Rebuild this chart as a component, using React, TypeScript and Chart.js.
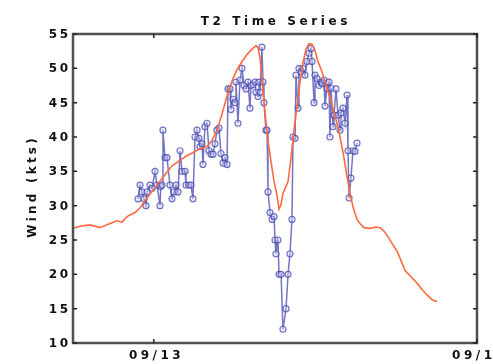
import { useEffect, useRef } from "react";
import { Chart, registerables } from "chart.js";

Chart.register(...registerables);

// Time axis: hours relative to 09/13 00:00
const xMin = -6;
const xMax = 24;
const yMin = 10;
const yMax = 55;

const yTickValues = [10, 15, 20, 25, 30, 35, 40, 45, 50, 55];
const xTickHours = [0, 24];
const xTickLabels = ["09/13", "09/14"];
const titleText = "T2 Time Series";
const yAxisTitle = "Wind (kts)";

// Model (orange line)
const modelHours = [
  -6.0, -5.48, -4.74, -4.0, -3.25, -2.73, -2.36, -1.99, -1.4, -1.02, -0.43, 0.24, 0.83, 1.35,
  1.95, 2.47, 2.91, 3.43, 3.95, 4.32, 4.69, 5.06, 5.51, 5.88, 6.18, 6.55, 6.92, 7.29, 7.59,
  7.74, 7.89, 8.03, 8.26, 8.48, 8.7, 8.93, 9.15, 9.3, 9.45, 9.59, 9.82, 9.97, 10.19, 10.41,
  10.63, 10.86, 11.08, 11.3, 11.53, 11.75, 11.97, 12.19, 12.49, 12.79, 13.08, 13.38, 13.6,
  13.83, 14.12, 14.35, 14.57, 14.79, 15.09, 15.31, 15.61, 16.05, 16.5, 16.8, 17.09, 17.39,
  17.69, 18.06, 18.36, 18.65, 19.03, 19.55, 19.92, 20.29, 20.66, 21.03,
];
const modelWind = [
  26.7, 27.0, 27.2, 26.8, 27.4, 27.8, 27.6, 28.4, 29.0, 29.7, 31.3, 33.0, 34.5, 35.8,
  36.6, 37.3, 37.7, 38.3, 38.6, 39.5, 41.0, 43.3, 46.5, 48.5, 49.8, 51.0, 52.0, 52.8, 53.3,
  53.0, 51.5, 48.5, 43.5, 39.5, 36.5, 33.5, 31.5, 29.5, 30.2, 31.8, 32.8, 33.5, 37.0, 41.0,
  44.5, 48.0, 50.8, 52.8, 53.6, 53.5, 52.6, 51.0, 49.5, 47.5, 45.8, 43.6, 42.0,
  40.0, 37.0, 34.2, 31.8, 29.8, 28.0, 27.4, 26.8, 26.7, 26.9, 26.8, 26.3, 25.5,
  24.5, 23.4, 22.0, 20.6, 19.8, 18.7, 17.8, 17.0, 16.3, 16.0,
];

// Observations (blue line with circles)
const obsHours = [
  -1.17, -1.02, -0.88, -0.73, -0.58, -0.5, -0.28, -0.13, 0.09, 0.24, 0.46, 0.52, 0.61, 0.68,
  0.83, 0.98, 1.2, 1.35, 1.5, 1.65, 1.8, 1.95, 2.09, 2.32, 2.39, 2.61, 2.76, 2.91, 3.06,
  3.21, 3.36, 3.43, 3.58, 3.65, 3.8, 3.95, 4.1, 4.25, 4.4, 4.54, 4.69, 4.84, 4.99, 5.14,
  5.29, 5.44, 5.51, 5.66, 5.73, 5.88, 6.03, 6.1, 6.25, 6.4, 6.55, 6.7, 6.85, 7.0, 7.14,
  7.22, 7.37, 7.52, 7.59, 7.74, 7.81, 7.89, 8.03, 8.11, 8.18, 8.33, 8.41, 8.48, 8.63, 8.78,
  8.93, 9.0, 9.07, 9.22, 9.3, 9.45, 9.59, 9.82, 9.97, 10.11, 10.26, 10.34, 10.49, 10.56,
  10.71, 10.78, 10.93, 11.08, 11.23, 11.38, 11.53, 11.67, 11.75, 11.9, 11.97, 12.12, 12.27,
  12.42, 12.49, 12.64, 12.71, 12.86, 13.01, 13.08, 13.16, 13.31, 13.38, 13.53, 13.68, 13.83,
  13.9, 14.05, 14.2, 14.35, 14.42, 14.5, 14.64, 14.79, 14.94, 15.09,
];
const obsWind = [
  31.0, 33.0, 32.0, 31.0, 30.0, 32.0, 33.0, 32.5, 35.0, 33.0, 30.0, 32.8, 33.0, 41.0,
  37.0, 37.0, 33.0, 31.0, 32.0, 33.0, 32.0, 38.0, 35.0, 35.0, 33.0, 33.0, 33.0, 31.0, 40.0,
  41.0, 39.8, 38.6, 39.0, 36.0, 41.5, 42.0, 38.0, 37.5, 37.5, 39.0, 41.0, 41.3, 37.6, 36.2,
  37.0, 36.0, 47.0, 47.0, 44.0, 45.5, 45.0, 48.0, 42.0, 48.3, 50.0, 47.5, 47.0, 48.0, 44.2,
  47.5, 47.6, 48.0, 46.5, 45.9, 48.0, 46.5, 53.1, 48.0, 45.0, 41.0, 41.0, 32.0, 29.0, 28.0,
  28.4, 25.0, 23.0, 25.0, 20.0, 20.0, 12.0, 15.0, 20.0, 23.0, 28.0, 40.0, 39.8, 49.0,
  44.2, 50.0, 49.5, 50.0, 49.0, 51.0, 52.2, 52.9, 51.0, 45.0, 49.0, 48.5, 47.5,
  48.0, 47.8, 48.3, 44.5, 47.1, 48.0, 40.0, 47.1, 41.5, 43.2, 47.0, 43.2, 41.0,
  43.5, 44.2, 42.0, 46.1, 38.0, 31.1, 34.0, 38.0, 37.9, 39.1,
];

const FONT_FAMILY = '"DejaVu Sans", "Liberation Sans", Arial, sans-serif';

function drawSpaced(
  ctx: CanvasRenderingContext2D,
  text: string,
  x: number,
  y: number,
  align: "left" | "center" | "right",
  spacing: number
) {
  (ctx as any).letterSpacing = "0px";
  ctx.textAlign = "left";
  const chars = Array.from(text);
  const widths = chars.map((c) => ctx.measureText(c).width);
  const total = widths.reduce((a, b) => a + b, 0) + spacing * (chars.length - 1);
  let sx = x;
  if (align === "center") sx = x - total / 2;
  else if (align === "right") sx = x - total;
  chars.forEach((c, i) => {
    ctx.fillText(c, sx, y);
    sx += widths[i] + spacing;
  });
}

const axesPlugin = {
  id: "matlabAxes",
  afterDraw(chart: any) {
    const { ctx, chartArea } = chart;
    const xs = chart.scales.x;
    const ys = chart.scales.y;
    const { left, right, top, bottom } = chartArea;
    ctx.save();
    // box
    ctx.strokeStyle = "#505050";
    ctx.lineWidth = 2.5;
    ctx.strokeRect(left, top, right - left, bottom - top);

    // ticks
    ctx.lineWidth = 1.5;
    ctx.strokeStyle = "#222";
    const tl = 4;
    yTickValues.forEach((v) => {
      const py = ys.getPixelForValue(v);
      ctx.beginPath();
      ctx.moveTo(left, py);
      ctx.lineTo(left + tl, py);
      ctx.moveTo(right, py);
      ctx.lineTo(right - tl, py);
      ctx.stroke();
    });
    xTickHours.forEach((h) => {
      const px = xs.getPixelForValue(h);
      ctx.beginPath();
      ctx.moveTo(px, bottom);
      ctx.lineTo(px, bottom - tl);
      ctx.moveTo(px, top);
      ctx.lineTo(px, top + tl);
      ctx.stroke();
    });

    // labels
    ctx.fillStyle = "#111";
    ctx.textBaseline = "middle";
    ctx.font = "bold 12px " + FONT_FAMILY;
    yTickValues.forEach((v) => {
      const py = ys.getPixelForValue(v);
      drawSpaced(ctx, String(v), left - 5, py + 1, "right", 2.5);
    });
    xTickHours.forEach((h, i) => {
      const px = xs.getPixelForValue(h);
      drawSpaced(ctx, xTickLabels[i], px + 1, bottom + 13, "center", 3.5);
    });

    // title
    ctx.font = "bold 12px " + FONT_FAMILY;
    drawSpaced(ctx, titleText, (left + right) / 2 - 1, top - 12, "center", 3.6);

    // y axis title
    ctx.save();
    ctx.translate(33, 188);
    ctx.rotate(-Math.PI / 2);
    ctx.font = "bold 12px " + FONT_FAMILY;
    drawSpaced(ctx, yAxisTitle, 0, 0, "center", 3.2);
    ctx.restore();

    ctx.restore();
  },
};

export default function App() {
  const canvasRef = useRef<HTMLCanvasElement | null>(null);

  useEffect(() => {
    document.body.style.margin = "0";
    const canvas = canvasRef.current;
    if (!canvas) return;
    const modelData = modelHours.map((h, i) => ({ x: h, y: modelWind[i] }));
    const obsData = obsHours.map((h, i) => ({ x: h, y: obsWind[i] }));
    const chart = new Chart(canvas, {
      type: "line",
      data: {
        datasets: [
          {
            label: "Model",
            data: modelData,
            borderColor: "#ff6a3d",
            borderWidth: 1.6,
            pointRadius: 0,
            tension: 0,
            fill: false,
          },
          {
            label: "Observed",
            data: obsData,
            borderColor: "rgba(70,72,175,0.75)",
            borderWidth: 1.5,
            pointRadius: 3,
            pointBorderWidth: 1.2,
            pointBorderColor: "rgba(70,72,175,0.75)",
            pointBackgroundColor: "rgba(215,215,245,0.4)",
            tension: 0,
            fill: false,
          },
        ],
      },
      options: {
        responsive: false,
        animation: false,
        devicePixelRatio: 1,
        layout: { padding: { left: 73, right: 16, top: 34, bottom: 21 } },
        scales: {
          x: { type: "linear", min: xMin, max: xMax, display: false },
          y: { type: "linear", min: yMin, max: yMax, display: false },
        },
        plugins: {
          legend: { display: false },
          tooltip: { enabled: false },
          title: { display: false },
        },
      },
      plugins: [axesPlugin],
    });
    return () => chart.destroy();
  }, []);

  return (
    <div style={{ width: 493, height: 364, background: "#fff" }}>
      <canvas ref={canvasRef} width={493} height={364} style={{ display: "block" }} />
    </div>
  );
}
